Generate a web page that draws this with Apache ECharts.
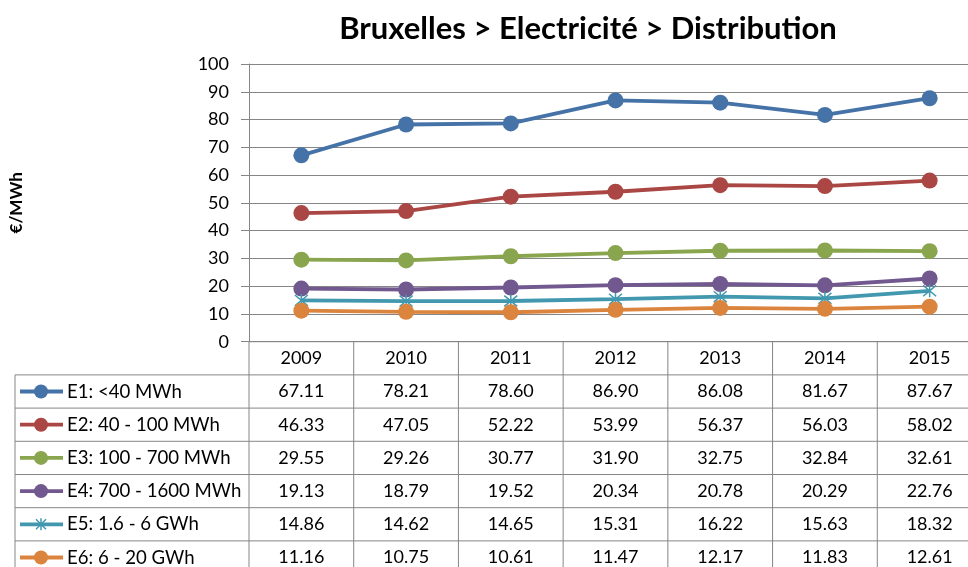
<!DOCTYPE html>
<html>
<head>
<meta charset="utf-8">
<script src="https://cdn.jsdelivr.net/npm/echarts@6/dist/echarts.min.js"></script>
<style>
  html, body { margin: 0; padding: 0; background: #fff; }
  #chart { width: 968px; height: 567px; }
</style>
</head>
<body>
<div id="chart"></div>
<script>
  // données
  var years = ['2009', '2010', '2011', '2012', '2013', '2014', '2015'];
  var seriesNames = ['E1: <40 MWh', 'E2: 40 - 100 MWh', 'E3: 100 - 700 MWh', 'E4: 700 - 1600 MWh', 'E5: 1.6 - 6 GWh', 'E6: 6 - 20 GWh'];
  var e1 = [67.11, 78.21, 78.60, 86.90, 86.08, 81.67, 87.67];
  var e2 = [46.33, 47.05, 52.22, 53.99, 56.37, 56.03, 58.02];
  var e3 = [29.55, 29.26, 30.77, 31.90, 32.75, 32.84, 32.61];
  var e4 = [19.13, 18.79, 19.52, 20.34, 20.78, 20.29, 22.76];
  var e5 = [14.86, 14.62, 14.65, 15.31, 16.22, 15.63, 18.32];
  var e6 = [11.16, 10.75, 10.61, 11.47, 12.17, 11.83, 12.61];
  var allData = [e1, e2, e3, e4, e5, e6];
  var colors = ['#4572A7', '#AA4643', '#89A54E', '#71588F', '#4198AF', '#DB843D'];
  var yMin = 0, yMax = 100, yStep = 10;

  var FONT = 'Lato, "Open Sans", sans-serif';
  var GREY = '#868686';
  var STAR = 'path://M0,0L10,10M10,0L0,10M5,-1L5,11';

  var myChart = echarts.init(document.getElementById('chart'));

  var series = [];
  for (var i = 0; i < allData.length; i++) {
    var isStar = (i === 4);
    series.push({
      name: seriesNames[i],
      type: 'line',
      data: allData[i],
      symbol: isStar ? STAR : 'circle',
      symbolSize: isStar ? 13 : 16,
      showSymbol: true,
      lineStyle: { width: 3.8, color: colors[i] },
      itemStyle: isStar ? { color: 'none', borderColor: colors[i], borderWidth: 1.5 } : { color: colors[i] },
      animation: false
    });
  }

  var option = {
    animation: false,
    title: {
      text: 'Bruxelles > Electricité > Distribution',
      left: 583,
      textAlign: 'center',
      top: 8,
      textStyle: { fontFamily: FONT, fontSize: 31, fontWeight: 'bold', color: '#000' }
    },
    grid: { left: 249, top: 64, width: 733, height: 277.7, outerBoundsMode: 'none', containLabel: false },
    xAxis: {
      type: 'category',
      data: years,
      boundaryGap: true,
      axisLine: { show: false },
      axisTick: { show: false },
      axisLabel: { show: false }
    },
    yAxis: {
      type: 'value',
      min: yMin,
      max: yMax,
      interval: yStep,
      name: '€/MWh',
      nameLocation: 'middle',
      nameGap: 224,
      nameRotate: 90,
      nameTextStyle: { fontFamily: FONT, fontSize: 17, fontWeight: 'bold', color: '#000' },
      axisLine: { show: true, lineStyle: { color: GREY, width: 1 } },
      axisTick: { show: true, length: 8, lineStyle: { color: GREY } },
      axisLabel: { fontFamily: FONT, fontSize: 18, color: '#000', margin: 20 },
      splitLine: { lineStyle: { color: GREY, width: 1 } }
    },
    series: series
  };
  myChart.setOption(option);

  // tableau de données sous le graphique
  var c0 = myChart.convertToPixel({ xAxisIndex: 0 }, years[0]);
  var c1 = myChart.convertToPixel({ xAxisIndex: 0 }, years[1]);
  var band = c1 - c0;
  var xLeft = c0 - band / 2;
  var y0 = myChart.convertToPixel({ yAxisIndex: 0 }, 0);
  var rowH = 33.2;
  var legendLeft = 15;
  var bottom = 600;
  var xRight = xLeft + band * years.length;
  var lineStyle = { stroke: GREY, lineWidth: 1 };
  var txt = { fontFamily: FONT, fontSize: 18, fill: '#000' };
  var g = [];

  function hLine(x1, x2, y) {
    g.push({ type: 'line', shape: { x1: x1, y1: y, x2: x2, y2: y }, style: lineStyle, silent: true });
  }
  function vLine(x, y1, y2) {
    g.push({ type: 'line', shape: { x1: x, y1: y1, x2: x, y2: y2 }, style: lineStyle, silent: true });
  }
  function text(s, x, y, align, size) {
    g.push({
      type: 'text', silent: true,
      style: { text: s, x: x, y: y, align: align, verticalAlign: 'middle', fontFamily: txt.fontFamily, fontSize: size || txt.fontSize, fill: txt.fill }
    });
  }

  hLine(xLeft, xRight, y0);
  for (var k = 0; k <= years.length; k++) {
    vLine(xLeft + k * band, y0, bottom);
  }
  vLine(legendLeft, y0 + rowH, bottom);
  for (var r = 1; r <= allData.length + 1; r++) {
    hLine(legendLeft, xRight, y0 + r * rowH);
  }
  for (var j = 0; j < years.length; j++) {
    text(years[j], xLeft + (j + 0.5) * band, y0 + rowH / 2, 'center');
  }
  for (var s = 0; s < allData.length; s++) {
    var cy = y0 + (s + 1.5) * rowH;
    g.push({ type: 'line', silent: true, shape: { x1: 20, y1: cy, x2: 63, y2: cy }, style: { stroke: colors[s], lineWidth: 3.8 } });
    if (s === 4) {
      g.push({ type: 'line', silent: true, shape: { x1: 36, y1: cy - 5, x2: 46, y2: cy + 5 }, style: { stroke: colors[s], lineWidth: 1.5 } });
      g.push({ type: 'line', silent: true, shape: { x1: 46, y1: cy - 5, x2: 36, y2: cy + 5 }, style: { stroke: colors[s], lineWidth: 1.5 } });
      g.push({ type: 'line', silent: true, shape: { x1: 41, y1: cy - 6, x2: 41, y2: cy + 6 }, style: { stroke: colors[s], lineWidth: 1.5 } });
    } else {
      g.push({ type: 'circle', silent: true, shape: { cx: 41, cy: cy, r: 7 }, style: { fill: colors[s] } });
    }
    text(seriesNames[s], 67, cy, 'left', 18.6);
    for (var t = 0; t < years.length; t++) {
      text(allData[s][t].toFixed(2), xLeft + (t + 0.5) * band, cy, 'center');
    }
  }
  myChart.setOption({ graphic: { elements: g } });
</script>
</body>
</html>
